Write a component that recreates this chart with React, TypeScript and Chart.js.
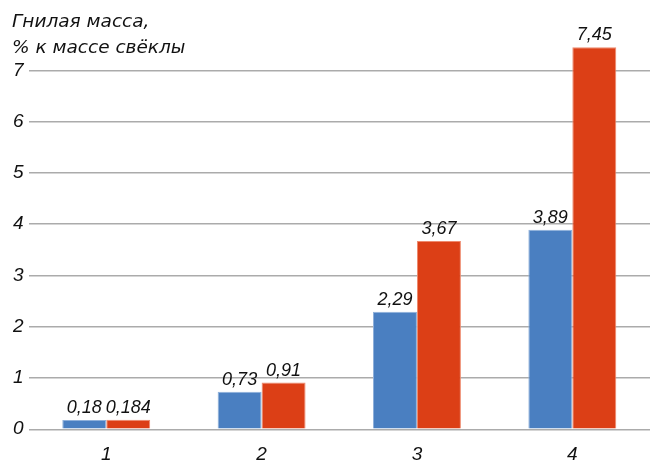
import React, { useEffect, useRef } from "react";
import { Chart, registerables } from "chart.js";

Chart.register(...registerables);

const categories = ["1", "2", "3", "4"];
const seriesBlue = [0.18, 0.73, 2.29, 3.89];
const seriesRed = [0.184, 0.91, 3.67, 7.45];
const blueLabels = ["0,18", "0,73", "2,29", "3,89"];
const redLabels = ["0,184", "0,91", "3,67", "7,45"];
const titleLines = ["Гнилая масса,", "% к массе свёклы"];

const FONT = "'Liberation Sans', Arial, sans-serif";
const TITLE_FONT = "'DejaVu Sans', sans-serif";

const valueLabels = {
  id: "valueLabels",
  afterDatasetsDraw(chart: any) {
    const ctx = chart.ctx;
    ctx.save();
    ctx.font = `italic 18px ${FONT}`;
    ctx.fillStyle = "#111";
    ctx.textAlign = "center";
    ctx.textBaseline = "bottom";
    const all = [blueLabels, redLabels];
    chart.data.datasets.forEach((_: any, di: number) => {
      const meta = chart.getDatasetMeta(di);
      meta.data.forEach((bar: any, i: number) => {
        ctx.fillText(all[di][i], bar.x, bar.y - 3);
      });
    });
    ctx.restore();
  },
};

const axisTitle = {
  id: "axisTitle",
  afterDraw(chart: any) {
    const ctx = chart.ctx;
    ctx.save();
    ctx.font = `oblique 18.5px ${TITLE_FONT}`;
    ctx.fillStyle = "#111";
    ctx.textAlign = "left";
    ctx.textBaseline = "alphabetic";
    ctx.fillText(titleLines[0], 12, 27);
    ctx.fillText(titleLines[1], 12, 53);
    ctx.restore();
  },
};

export default function App() {
  const ref = useRef<HTMLCanvasElement>(null);
  useEffect(() => {
    document.body.style.margin = "0";
    const chart = new Chart(ref.current!, {
      type: "bar",
      data: {
        labels: categories,
        datasets: [
          {
            data: seriesBlue,
            backgroundColor: "#4a7fc1",
            borderColor: "#8fb0da",
            borderWidth: 1,
          },
          {
            data: seriesRed,
            backgroundColor: "#dc3f16",
            borderColor: "#ee8a6e",
            borderWidth: 1,
          },
        ],
      },
      options: {
        animation: false,
        responsive: false,
        maintainAspectRatio: false,
        layout: { padding: { top: 19, right: 7, left: 8, bottom: -10 } },
        datasets: {
          bar: { categoryPercentage: 0.566, barPercentage: 1 },
        },
        plugins: {
          legend: { display: false },
          tooltip: { enabled: false },
        },
        scales: {
          x: {
            grid: { display: false },
            border: { display: false },
            ticks: {
              color: "#111",
              font: { family: FONT, size: 19, style: "italic" },
              padding: 6,
            },
          },
          y: {
            min: 0,
            max: 8,
            afterBuildTicks(axis: any) {
              axis.ticks = axis.ticks.filter((t: any) => t.value <= 7);
            },
            grid: { color: "#ababab", lineWidth: 1.4, drawTicks: false },
            border: { display: false },
            ticks: {
              stepSize: 1,
              color: "#111",
              font: { family: FONT, size: 19, style: "italic" },
              padding: 5,
            },
          },
        },
      },
      plugins: [valueLabels, axisTitle],
    });
    return () => chart.destroy();
  }, []);
  return <canvas ref={ref} width={657} height={462} style={{ display: "block" }} />;
}
